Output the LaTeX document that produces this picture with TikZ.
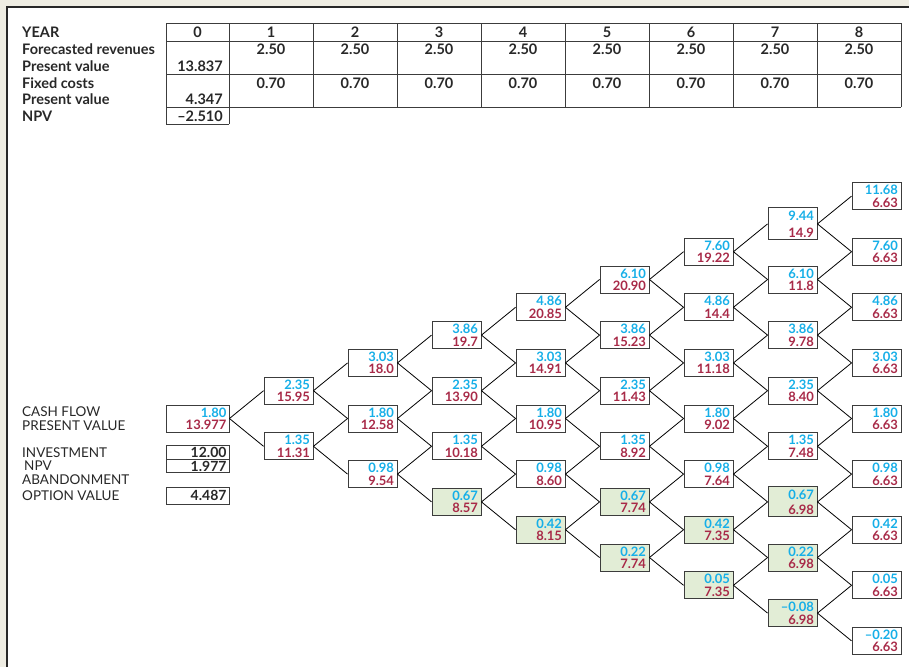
\documentclass[tikz,border=0pt]{standalone}
\usepackage{fontspec}
\setmainfont{Lato}
\definecolor{bgbeige}{RGB}{239,237,227}
\definecolor{framecol}{RGB}{40,40,40}
\definecolor{boxgray}{RGB}{60,60,60}
\definecolor{cfblue}{RGB}{22,175,232}
\definecolor{pvred}{RGB}{168,42,72}
\definecolor{greenfill}{RGB}{226,237,214}
\definecolor{txtgray}{RGB}{40,40,40}
\tikzset{
  tb/.style={draw=boxgray, line width=0.9pt, fill=white, minimum width=49pt, minimum height=27pt,
    inner sep=0pt, text width=43pt, text height=9.5pt, text depth=12.5pt, align=right,
    font=\bfseries\fontsize{13}{12.5}\selectfont},
  gr/.style={fill=greenfill},
  edge/.style={draw=black, line width=0.8pt},
  tt/.style={inner sep=0pt, font=\bfseries\fontsize{14.5}{15}\selectfont, text=txtgray},
  lbl/.style={inner sep=0pt, anchor=west, font=\fontsize{13.5}{14}\selectfont, text=txtgray},
  tlbl/.style={lbl, font=\bfseries\fontsize{14.5}{15}\selectfont},
  sbox/.style={draw=boxgray, line width=0.9pt, minimum width=63pt, text width=58pt, align=right,
    inner sep=0pt, text depth=0pt, font=\bfseries\fontsize{14}{12}\selectfont, text=txtgray},
  grid/.style={draw=boxgray, line width=0.9pt}
}
\newcommand\tnode[5]{\node[tb,#3] (n#1-#2) at ({204.5+84*#1},{418.5-27.8*#1+55.6*#2}) {\textcolor{cfblue}{#4}\\\textcolor{pvred}{#5}};}
\begin{document}
\begin{tikzpicture}[x=1pt,y=-1pt]
\useasboundingbox (0,0) rectangle (909,667);
\fill[bgbeige] (0,0) rectangle (909,667);
\fill[white] (7,7) rectangle (909,667);
\draw[framecol, line width=1.5pt] (7,667) -- (7,7) -- (909,7);
% ---- table grid
\draw[grid] (166,23) -- (901,23);
\draw[grid] (166,41) -- (901,41);
\draw[grid] (166,74) -- (901,74);
\draw[grid] (166,107) -- (901,107);
\draw[grid] (166,124) -- (229,124);
\draw[grid] (166,23) -- (166,124);
\draw[grid] (229,23) -- (229,124);
\foreach \k in {1,...,8}{ \draw[grid] ({229+84*\k},23) -- ({229+84*\k},107); }
% ---- table labels
\node[tlbl] (lyear) at (22,32.5) {YEAR};
\node[tlbl] (lrev) at (22,49) {Forecasted revenues};
\node[tlbl] (lpv1) at (22,66) {Present value};
\node[tlbl] (lfc) at (22,83) {Fixed costs};
\node[tlbl] (lpv2) at (22,99.5) {Present value};
\node[tlbl] (lnpv) at (22,116.5) {NPV};
\node[tt] (y0) at (197.5,32.5) {0};
\foreach \k in {1,...,8}{
  \node[tt] (y\k) at ({187+84*\k},32.5) {\k};
  \node[tt] (r\k) at ({187+84*\k},49) {2.50};
  \node[tt] (f\k) at ({187+84*\k},83) {0.70};
}
\node[tt,anchor=east] (pvr) at (223,66) {13.837};
\node[tt,anchor=east] (pvf) at (223,99.5) {4.347};
\node[tt,anchor=east] (npv0) at (223,116.5) {–2.510};
% ---- left labels
\node[lbl] (lcf) at (22,412) {CASH FLOW};
\node[lbl] (lpv) at (22,425.5) {PRESENT VALUE};
\node[lbl] (linv) at (22,452.5) {INVESTMENT};
\node[lbl] (lnpv2) at (24,466) {NPV};
\node[lbl] (lab) at (22,480) {ABANDONMENT};
\node[lbl] (lopt) at (22,495.5) {OPTION VALUE};
\node[sbox, minimum height=13.5pt] (inv) at (197.5,452.5) {12.00};
\node[sbox, minimum height=13.5pt] (npvb) at (197.5,466) {1.977};
\node[sbox, minimum height=17pt] (opt) at (197.5,495.5) {4.487};
% ---- tree
\node[tb, minimum width=63pt, text width=58pt] (n0-0) at (197.5,418.5) {\textcolor{cfblue}{1.80}\\\textcolor{pvred}{13.977}};
\tnode{1}{0}{}{2.35}{15.95}
\tnode{1}{1}{}{1.35}{11.31}
\tnode{2}{0}{}{3.03}{18.0}
\tnode{2}{1}{}{1.80}{12.58}
\tnode{2}{2}{}{0.98}{9.54}
\tnode{3}{0}{}{3.86}{19.7}
\tnode{3}{1}{}{2.35}{13.90}
\tnode{3}{2}{}{1.35}{10.18}
\tnode{3}{3}{gr}{0.67}{8.57}
\tnode{4}{0}{}{4.86}{20.85}
\tnode{4}{1}{}{3.03}{14.91}
\tnode{4}{2}{}{1.80}{10.95}
\tnode{4}{3}{}{0.98}{8.60}
\tnode{4}{4}{gr}{0.42}{8.15}
\tnode{5}{0}{}{6.10}{20.90}
\tnode{5}{1}{}{3.86}{15.23}
\tnode{5}{2}{}{2.35}{11.43}
\tnode{5}{3}{}{1.35}{8.92}
\tnode{5}{4}{gr}{0.67}{7.74}
\tnode{5}{5}{gr}{0.22}{7.74}
\tnode{6}{0}{}{7.60}{19.22}
\tnode{6}{1}{}{4.86}{14.4}
\tnode{6}{2}{}{3.03}{11.18}
\tnode{6}{3}{}{1.80}{9.02}
\tnode{6}{4}{}{0.98}{7.64}
\tnode{6}{5}{gr}{0.42}{7.35}
\tnode{6}{6}{gr}{0.05}{7.35}
\node[tb, minimum height=32pt, text depth=17pt] (n7-0) at ({204.5+84*7},{418.5-27.8*7}) {\textcolor{cfblue}{9.44}\\[4.5pt]\textcolor{pvred}{14.9}};
\tnode{7}{1}{}{6.10}{11.8}
\tnode{7}{2}{}{3.86}{9.78}
\tnode{7}{3}{}{2.35}{8.40}
\tnode{7}{4}{}{1.35}{7.48}
\node[tb, gr, minimum height=30pt, text depth=15pt] (n7-5) at ({204.5+84*7},{418.5-27.8*7+55.6*5}) {\textcolor{cfblue}{0.67}\\[2.5pt]\textcolor{pvred}{6.98}};
\tnode{7}{6}{gr}{0.22}{6.98}
\tnode{7}{7}{gr}{–0.08}{6.98}
\tnode{8}{0}{}{11.68}{6.63}
\tnode{8}{1}{}{7.60}{6.63}
\tnode{8}{2}{}{4.86}{6.63}
\tnode{8}{3}{}{3.03}{6.63}
\tnode{8}{4}{}{1.80}{6.63}
\tnode{8}{5}{}{0.98}{6.63}
\tnode{8}{6}{}{0.42}{6.63}
\tnode{8}{7}{}{0.05}{6.63}
\tnode{8}{8}{}{–0.20}{6.63}
\foreach \k in {0,...,7}{
  \pgfmathtruncatemacro\kk{\k+1}
  \foreach \i in {0,...,\k}{
    \pgfmathtruncatemacro\ii{\i+1}
    \draw[edge] (n\k-\i.east) -- (n\kk-\i.west);
    \draw[edge] (n\k-\i.east) -- (n\kk-\ii.west);
  }
}
\end{tikzpicture}
\end{document}
